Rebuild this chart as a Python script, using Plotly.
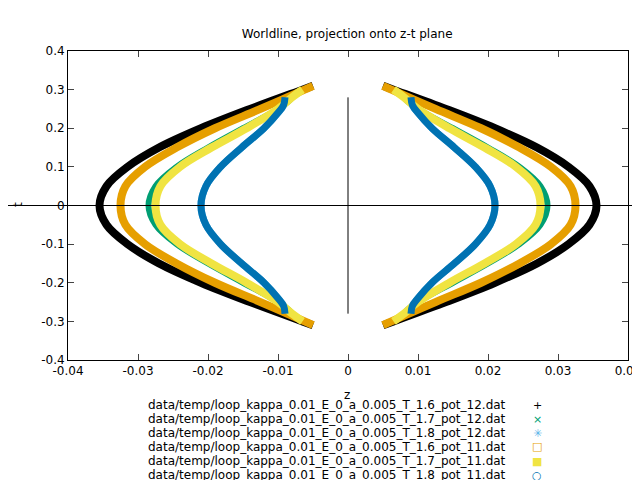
import plotly.graph_objects as go

labels = [
    "data/temp/loop_kappa_0.01_E_0_a_0.005_T_1.6_pot_12.dat",
    "data/temp/loop_kappa_0.01_E_0_a_0.005_T_1.7_pot_12.dat",
    "data/temp/loop_kappa_0.01_E_0_a_0.005_T_1.8_pot_12.dat",
    "data/temp/loop_kappa_0.01_E_0_a_0.005_T_1.6_pot_11.dat",
    "data/temp/loop_kappa_0.01_E_0_a_0.005_T_1.7_pot_11.dat",
    "data/temp/loop_kappa_0.01_E_0_a_0.005_T_1.8_pot_11.dat",
]
t_series = [
    [-0.31, -0.30, -0.25, -0.20, -0.15, -0.10, -0.05, 0.0, 0.05, 0.10, 0.15, 0.20, 0.25, 0.30, 0.31],
    [-0.29, -0.27, -0.25, -0.20, -0.15, -0.10, -0.05, 0.0, 0.05, 0.10, 0.15, 0.20, 0.25, 0.27, 0.29],
    [-0.28, -0.26, -0.24, -0.20, -0.15, -0.10, -0.05, 0.0, 0.05, 0.10, 0.15, 0.20, 0.24, 0.26, 0.28],
    [-0.31, -0.30, -0.25, -0.20, -0.15, -0.10, -0.05, 0.0, 0.05, 0.10, 0.15, 0.20, 0.25, 0.30, 0.31],
    [-0.30, -0.28, -0.25, -0.20, -0.15, -0.10, -0.05, 0.0, 0.05, 0.10, 0.15, 0.20, 0.25, 0.28, 0.30],
    [-0.28, -0.26, -0.24, -0.20, -0.15, -0.10, -0.05, 0.0, 0.05, 0.10, 0.15, 0.20, 0.24, 0.26, 0.28],
]
z_series = [
    [0.005, 0.0065, 0.0140, 0.0210, 0.0270, 0.0315, 0.0345, 0.0355, 0.0345, 0.0315, 0.0270, 0.0210, 0.0140, 0.0065, 0.005],
    [0.0075, 0.0085, 0.0100, 0.0150, 0.0200, 0.0245, 0.0275, 0.0285, 0.0275, 0.0245, 0.0200, 0.0150, 0.0100, 0.0085, 0.0075],
    [0.009, 0.0092, 0.0100, 0.0120, 0.0152, 0.0182, 0.0203, 0.0210, 0.0203, 0.0182, 0.0152, 0.0120, 0.0100, 0.0092, 0.009],
    [0.005, 0.0062, 0.0125, 0.0190, 0.0245, 0.0290, 0.0318, 0.0325, 0.0318, 0.0290, 0.0245, 0.0190, 0.0125, 0.0062, 0.005],
    [0.0065, 0.0080, 0.0100, 0.0145, 0.0195, 0.0240, 0.0268, 0.0275, 0.0268, 0.0240, 0.0195, 0.0145, 0.0100, 0.0080, 0.0065],
    [0.009, 0.0092, 0.0100, 0.0120, 0.0152, 0.0182, 0.0203, 0.0210, 0.0203, 0.0182, 0.0152, 0.0120, 0.0100, 0.0092, 0.009],
]
x_ticks = [-0.04, -0.03, -0.02, -0.01, 0, 0.01, 0.02, 0.03, 0.04]
x_ticktext = ["-0.04", "-0.03", "-0.02", "-0.01", "0", "0.01", "0.02", "0.03", "0.04"]
y_ticks = [-0.4, -0.3, -0.2, -0.1, 0, 0.1, 0.2, 0.3, 0.4]
y_ticktext = ["-0.4", "-0.3", "-0.2", "-0.1", "0", "0.1", "0.2", "0.3", "0.4"]

colors = ["#000000", "#009e73", "#56b4e9", "#e69f00", "#f0e442", "#0072b2"]
widths = [8, 6, 7, 8, 8, 7]
symbols = ["+", "×", "✳", "□", "■", "○"]

fig = go.Figure()
for ts, zs, c, w in zip(t_series, z_series, colors, widths):
    for sgn in (1, -1):
        fig.add_trace(go.Scatter(x=[sgn * z for z in zs], y=ts, mode="lines",
                                 line=dict(color=c, width=w, shape="spline", smoothing=1.0),
                                 showlegend=False))

fig.add_shape(type="line", xref="paper", yref="y", x0=-0.11, x1=1.04, y0=0, y1=0, line=dict(color="black", width=1))
fig.add_shape(type="line", xref="x", yref="y", x0=0, x1=0, y0=-0.28, y1=0.28, line=dict(color="black", width=1))

for i, (lab, sym, c) in enumerate(zip(labels, symbols, colors)):
    py = 397 + 14 * i
    yp = (352 - py) / 309
    fig.add_annotation(text=lab, xref="paper", yref="paper", x=(500 - 60) / 560, y=yp,
                       xanchor="right", yanchor="middle", showarrow=False, font=dict(size=12, color="black"))
    fig.add_annotation(text=sym, xref="paper", yref="paper", x=(529 - 60) / 560, y=yp,
                       xanchor="center", yanchor="middle", showarrow=False, font=dict(size=11, color=c))
fig.add_annotation(text="z", xref="paper", yref="paper", x=(339 - 60) / 560, y=(352 - 387) / 309,
                   xanchor="center", yanchor="middle", showarrow=False, font=dict(size=12))
fig.add_annotation(text="t", xref="paper", yref="paper", x=(10 - 60) / 560, y=(352 - 197) / 309,
                   xanchor="center", yanchor="middle", showarrow=False, textangle=-90, font=dict(size=12))

fig.update_layout(
    width=640, height=480,
    margin=dict(l=60, r=20, t=43, b=128, autoexpand=False),
    plot_bgcolor="white", paper_bgcolor="white",
    font=dict(family="DejaVu Sans", size=12, color="black"),
    title=dict(text="Worldline, projection onto z-t plane", x=0.53, y=0.955, xanchor="center", font=dict(size=12)),
    showlegend=False,
    xaxis=dict(range=[-0.04, 0.04], tickvals=x_ticks, ticktext=x_ticktext, tickangle=0, ticks="inside", ticklen=6,
               mirror="allticks", showline=True, linecolor="black", showgrid=False, zeroline=False, automargin=False),
    yaxis=dict(range=[-0.4, 0.4], tickvals=y_ticks, ticktext=y_ticktext, ticks="inside", ticklen=6,
               mirror="allticks", showline=True, linecolor="black", showgrid=False, zeroline=False, automargin=False),
)
fig.write_html("out.html")
